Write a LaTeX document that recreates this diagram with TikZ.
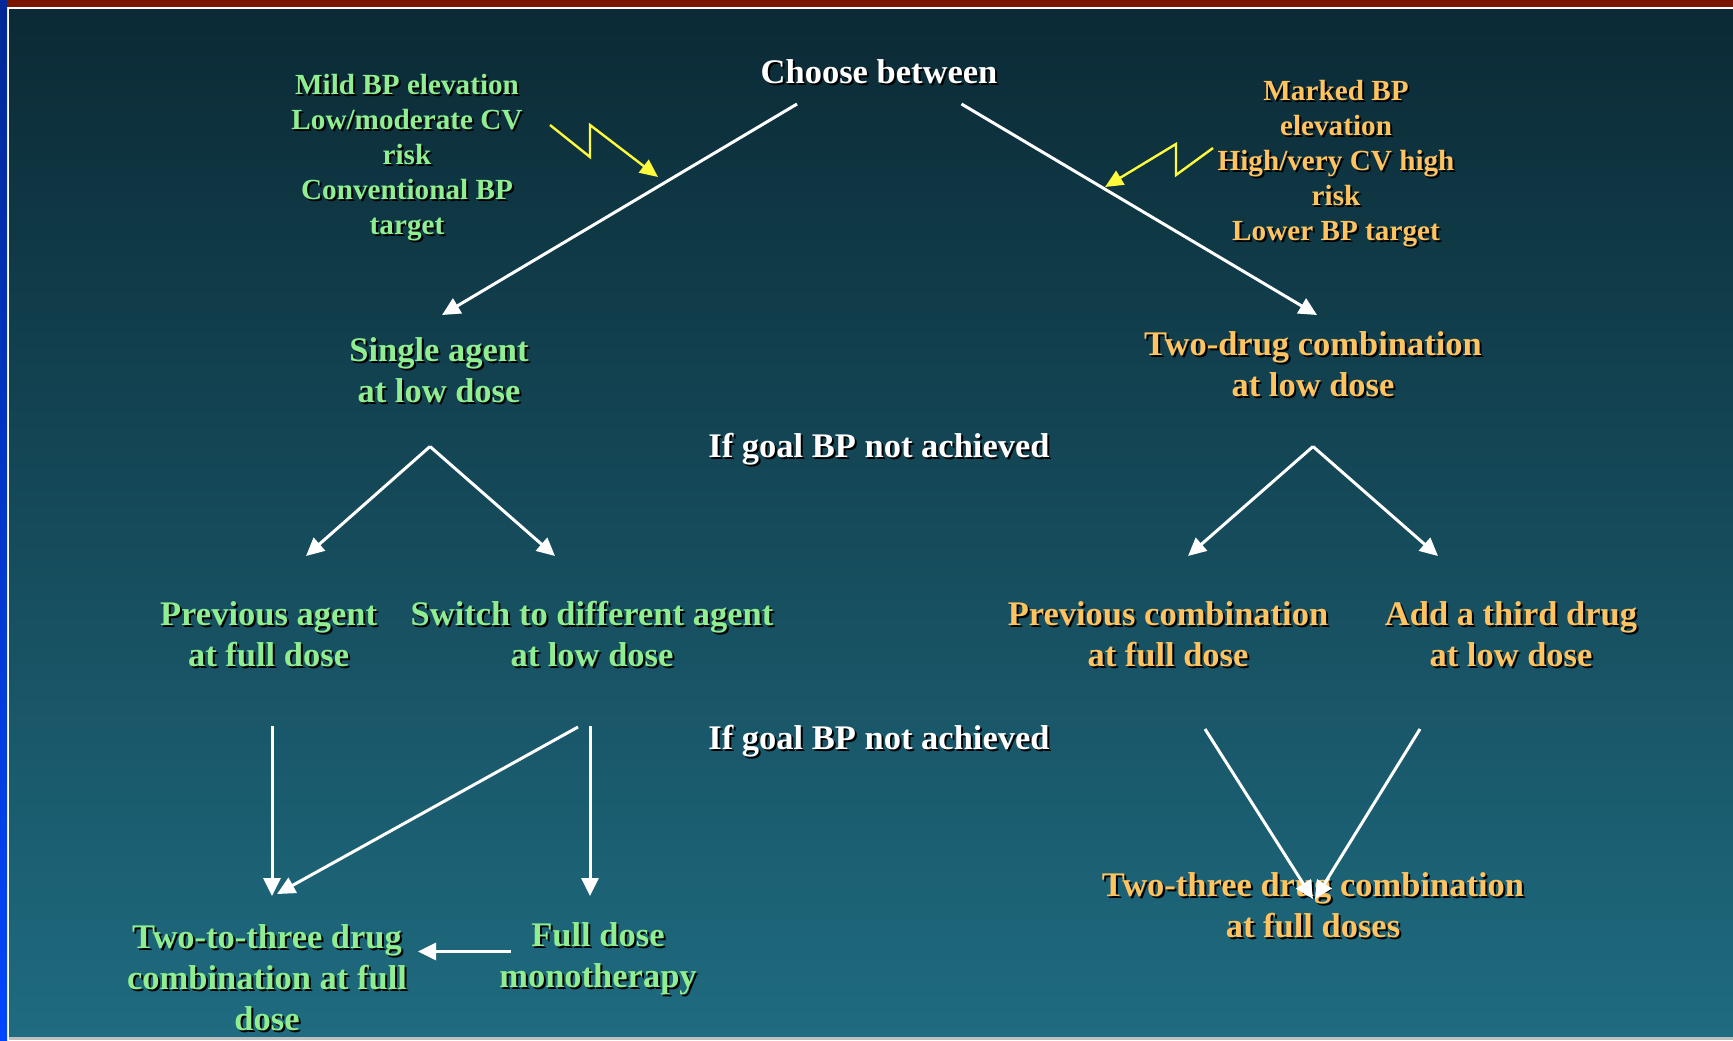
\documentclass[tikz,border=0pt]{standalone}
\usepackage{fontspec}
\setmainfont{Liberation Serif}
\usetikzlibrary{arrows.meta}
\definecolor{grn}{RGB}{144,238,144}
\definecolor{org}{RGB}{255,195,95}
\definecolor{bgtop}{RGB}{11,42,53}
\definecolor{bgbot}{RGB}{31,107,128}
\definecolor{barred}{RGB}{122,22,0}
\definecolor{bluetop}{RGB}{0,40,150}
\definecolor{bluebot}{RGB}{0,70,255}
\definecolor{ylw}{RGB}{255,250,60}
\newcommand\sh[1]{\makebox[0pt][l]{\hspace{1pt}\raisebox{-1pt}{\color{black}#1}}#1}
\begin{document}
\begin{tikzpicture}[x=0.5pt,y=-0.5pt,
  big/.style={font=\fontsize{17.25}{20.5}\selectfont\bfseries, align=center, inner sep=0pt},
  small/.style={font=\fontsize{14.6}{17.5}\selectfont\bfseries, align=center, inner sep=0pt},
  wa/.style={draw=white, line width=1.5pt, -{Triangle[length=9pt,width=8.5pt]}},
  ya/.style={draw=ylw, line width=1.2pt, line join=miter, -{Triangle[length=9pt,width=8pt]}}
]
\useasboundingbox (0,0) rectangle (1733,1040);
% background
\fill[white] (0,0) rectangle (1733,1040);
\shade[top color=bgtop, bottom color=bgbot] (9,9) rectangle (1733,1036);
\fill[barred] (0,0) rectangle (1733,7);
\shade[top color=bluetop, bottom color=bluebot] (0,0) rectangle (7,1040);
\fill[black!25] (9,1037) rectangle (1733,1040);

% nodes
\node[big, text=white] (choose) at (879,73) {\sh{Choose between}};
\node[small, text=grn] (noteL) at (407,159) {\sh{Mild BP elevation}\\\sh{Low/moderate CV}\\\sh{risk}\\\sh{Conventional BP}\\\sh{target}};
\node[small, text=org] (noteR) at (1336,164.5) {\sh{Marked BP}\\\sh{elevation}\\\sh{High/very CV high}\\\sh{risk}\\\sh{Lower BP target}};
\node[big, text=grn] (single) at (439,371) {\sh{Single agent}\\\sh{at low dose}};
\node[big, text=org] (twodrug) at (1313,365) {\sh{Two-drug combination}\\\sh{at low dose}};
\node[big, text=white] (goal1) at (879,450) {\sh{If goal BP not achieved}};
\node[big, text=grn] (prevag) at (268.6,635.5) {\sh{Previous agent}\\\sh{at full dose}};
\node[big, text=grn] (switch) at (592,635.5) {\sh{Switch to different agent}\\\sh{at low dose}};
\node[big, text=org] (prevcomb) at (1168,635.5) {\sh{Previous combination}\\\sh{at full dose}};
\node[big, text=org] (third) at (1511,635.5) {\sh{Add a third drug}\\\sh{at low dose}};
\node[big, text=white] (goal2) at (879,742) {\sh{If goal BP not achieved}};
\node[big, text=grn] (twothreeL) at (267,978.5) {\sh{Two-to-three drug}\\\sh{combination at full}\\\sh{dose}};
\node[big, text=grn] (fullmono) at (598,959.5) {\sh{Full dose}\\\sh{monotherapy}};
\node[big, text=org] (twothreeR) at (1313,906.5) {\sh{Two-three drug combination}\\\sh{at full doses}};

% connector end points
\coordinate (chL) at (797,104);
\coordinate (chR) at (961.5,104);
\coordinate (sgIn) at (442,315);
\coordinate (tdIn) at (1317,315);
\coordinate (sgOut) at (430,446.5);
\coordinate (tdOut) at (1313,446.5);
\coordinate (paIn) at (306,556);
\coordinate (swIn) at (555,556);
\coordinate (pcIn) at (1188,556);
\coordinate (thIn) at (1438,556);
\coordinate (paOut) at (272,726);
\coordinate (swOutA) at (578,727);
\coordinate (swOutB) at (590,726);
\coordinate (ttLInA) at (272,896);
\coordinate (ttLInB) at (277,894);
\coordinate (fmIn) at (590,896);
\coordinate (fmOut) at (511,951.5);
\coordinate (ttLInC) at (418,951.5);
\coordinate (pcOut) at (1205,729);
\coordinate (thOut) at (1420,729);
\coordinate (ttRInA) at (1313,899);
\coordinate (ttRInB) at (1315,899);

% white arrows
\draw[wa] (chL) -- (sgIn);
\draw[wa] (chR) -- (tdIn);
\draw[wa] (sgOut) -- (paIn);
\draw[wa] (sgOut) -- (swIn);
\draw[wa] (tdOut) -- (pcIn);
\draw[wa] (tdOut) -- (thIn);
\draw[wa] (paOut) -- (ttLInA);
\draw[wa] (swOutA) -- (ttLInB);
\draw[wa] (swOutB) -- (fmIn);
\draw[wa] (fmOut) -- (ttLInC);
\draw[wa] (pcOut) -- (ttRInA);
\draw[wa] (thOut) -- (ttRInB);

% yellow zigzag arrows
\coordinate (zl0) at (550,125);
\coordinate (zl1) at (590,157);
\coordinate (zl2) at (590,125);
\coordinate (zl3) at (658,177);
\draw[ya] (zl0) -- (zl1) -- (zl2) -- (zl3);
\coordinate (zr0) at (1213,148);
\coordinate (zr1) at (1176,175);
\coordinate (zr2) at (1176,144);
\coordinate (zr3) at (1105,187);
\draw[ya] (zr0) -- (zr1) -- (zr2) -- (zr3);
\end{tikzpicture}
\end{document}
